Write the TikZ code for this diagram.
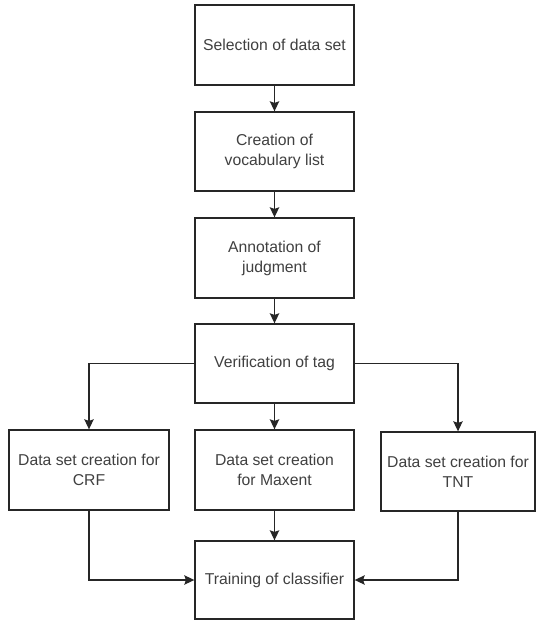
\documentclass[tikz,border=0pt]{standalone}
\usepackage{fontspec}
\setmainfont{Liberation Sans}
\usetikzlibrary{arrows.meta}
\begin{document}
\begin{tikzpicture}[x=0.75pt,y=-0.75pt,
  box/.style={draw=black!85,line width=1pt,rectangle,align=center,
    minimum width=159*0.75pt,minimum height=80*0.75pt,inner sep=2pt,
    text=black!75,font=\fontsize{11.8}{15}\selectfont},
  conn/.style={draw=black!85,line width=1pt,-{Stealth[length=7.5pt,width=7pt,inset=1.2pt]}}]
\useasboundingbox (0,0) rectangle (536,620);
\fill[white] (0,0) rectangle (536,620);
\node[box] (sel) at (274.5,45) {Selection of data set};
\node[box,minimum height=79*0.75pt] (voc) at (274.5,151.5) {Creation of\\vocabulary list};
\node[box] (ann) at (274.5,258) {Annotation of\\judgment};
\node[box,minimum height=79*0.75pt] (ver) at (274.5,363.5) {Verification of tag};
\node[box,minimum width=160*0.75pt] (crf) at (89,470) {Data set creation for\\CRF};
\node[box] (max) at (274.5,470) {Data set creation\\for Maxent};
\node[box,minimum width=154*0.75pt,minimum height=79*0.75pt] (tnt) at (458,471.5) {Data set creation for\\TNT};
\node[box,minimum height=78*0.75pt] (trn) at (274.5,580) {Training of classifier};
\draw[conn] (sel) -- (voc);
\draw[conn] (voc) -- (ann);
\draw[conn] (ann) -- (ver);
\draw[conn] (ver) -- (max);
\draw[conn] (ver.west) -| (crf.north);
\draw[conn] (ver.east) -| (tnt.north);
\draw[conn] (max) -- (trn);
\draw[conn] (crf.south) |- (trn.west);
\draw[conn] (tnt.south) |- (trn.east);
\end{tikzpicture}
\end{document}
